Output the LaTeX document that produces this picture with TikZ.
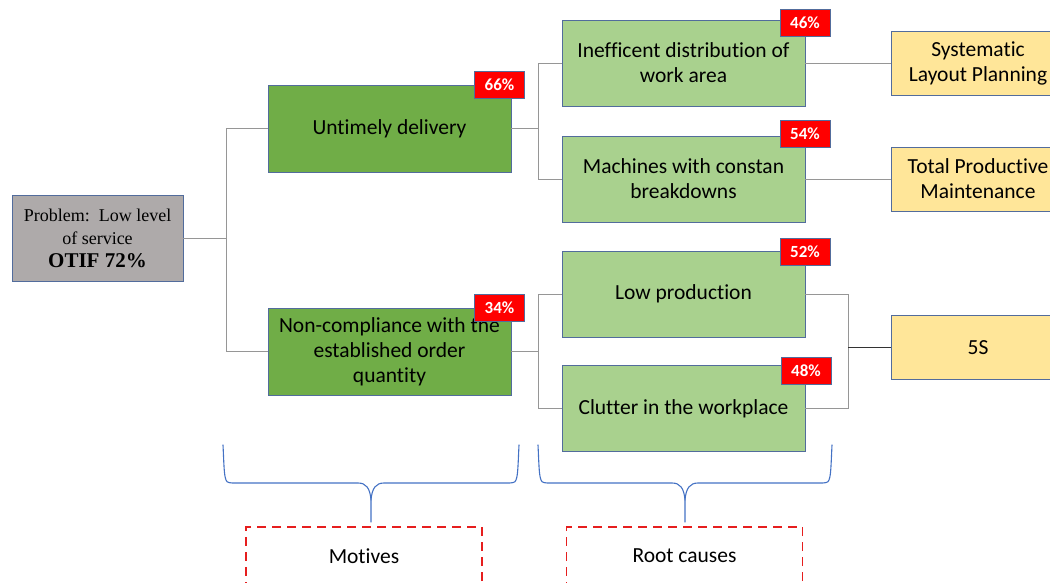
\documentclass[tikz,border=0pt]{standalone}
\usepackage{fontspec}
\setmainfont{Carlito}[Ligatures=NoCommon]
\newfontfamily\timesfont{Liberation Serif}
\definecolor{edge}{RGB}{82,108,156}
\definecolor{grayfill}{RGB}{174,170,170}
\definecolor{darkgreen}{RGB}{112,173,71}
\definecolor{lightgreen}{RGB}{169,209,142}
\definecolor{yellowfill}{RGB}{255,230,153}
\definecolor{linkgray}{RGB}{150,150,150}
\definecolor{bracecol}{RGB}{68,114,196}
\definecolor{dashred}{RGB}{230,30,30}
\begin{document}
\begin{tikzpicture}[x=1pt,y=-1pt,
  box/.style={draw=edge, line width=0.8pt, inner sep=0pt, align=center,
    font=\fontsize{21.5}{25}\selectfont},
  problembox/.style={box, fill=grayfill, minimum width=171pt, minimum height=86pt,
    font=\timesfont\fontsize{18}{23}\selectfont},
  motive/.style={box, fill=darkgreen, minimum width=243pt, minimum height=87pt},
  cause/.style={box, fill=lightgreen, minimum width=243pt, minimum height=86pt},
  tool/.style={box, fill=yellowfill, minimum width=174pt, minimum height=64pt},
  badge/.style={draw=edge, line width=0.8pt, fill=red, text=white, inner sep=0pt,
    minimum width=50pt, minimum height=27pt, font=\bfseries\fontsize{17}{19}\selectfont},
  link/.style={draw=linkgray, line width=0.9pt},
  darklink/.style={draw=black!80, line width=0.9pt},
  bracepath/.style={draw=bracecol, line width=1.1pt, line cap=round, line join=round},
  label/.style={draw=dashred, line width=1.3pt, dash pattern=on 9pt off 6pt,
    minimum width=236pt, minimum height=58pt, inner sep=0pt,
    font=\fontsize{21.5}{25}\selectfont}
]
\useasboundingbox (0,0) rectangle (1050,582);
\clip (0,0) rectangle (1050,582);

% problem
\node[problembox] (prob) at (97.5,238) {Problem:\ \ Low level\\of service\\{\bfseries\fontsize{21}{25}\selectfont OTIF 72\%}};

% motives
\node[motive] (ud) at (389.5,128.5) {Untimely delivery};
\node[motive] (nc) at (389.5,351.5) {Non-compliance with the\\established order\\quantity};

% root causes
\node[cause] (ie) at (683.5,63) {Inefficent distribution of\\work area};
\node[cause] (mc) at (683.5,179) {Machines with constan\\breakdowns};
\node[cause] (lp) at (683.5,294) {Low production};
\node[cause] (cl) at (683.5,408.5) {Clutter in the workplace};

% tools
\node[tool] (slp) at (978,63) {Systematic\\Layout Planning};
\node[tool] (tpm) at (978,179) {Total Productive\\Maintenance};
\node[tool] (fs) at (978,347.5) {5S};

% percentages
\node[badge] (b66) at (499.5,85) {66\%};
\node[badge] (b34) at (499.5,307.5) {34\%};
\node[badge] (b46) at (805,22.5) {46\%};
\node[badge] (b54) at (805,133.5) {54\%};
\node[badge] (b52) at (805,251.5) {52\%};
\node[badge] (b48) at (806,370.5) {48\%};

% junctions
\coordinate (j1) at (226,238);
\coordinate (j2) at (538,128.5);
\coordinate (j3) at (538,351.5);
\coordinate (j4) at (848,347.5);

\draw[link] (prob.east) -- (j1);
\draw[link] (j1) |- (ud.west);
\draw[link] (j1) |- (nc.west);
\draw[link] (ud.east) -- (j2);
\draw[link] (j2) |- (ie.west);
\draw[link] (j2) |- (mc.west);
\draw[link] (nc.east) -- (j3);
\draw[link] (j3) |- (lp.west);
\draw[link] (j3) |- (cl.west);
\draw[link] (ie.east) -- (slp.west);
\draw[link] (mc.east) -- (tpm.west);
\draw[link] (lp.east) -| (j4);
\draw[link] (cl.east) -| (j4);
\draw[darklink] (j4) -- (fs.west);

% braces
\draw[bracepath] (223,445) .. controls (224,465) and (224,475) .. (226,480)
  .. controls (227,483) and (230,483) .. (236,483) -- (358,483)
  .. controls (366,483) and (370,488) .. (371,500) -- (371,522);
\draw[bracepath] (519,445) .. controls (518,465) and (518,475) .. (516,480)
  .. controls (515,483) and (512,483) .. (506,483) -- (384,483)
  .. controls (376,483) and (372,488) .. (371,500);
\draw[bracepath] (538,445) .. controls (539,465) and (539,475) .. (541,480)
  .. controls (542,483) and (545,483) .. (551,483) -- (672,483)
  .. controls (680,483) and (684,488) .. (685,500) -- (685,522);
\draw[bracepath] (832,445) .. controls (831,465) and (831,475) .. (829,480)
  .. controls (828,483) and (825,483) .. (819,483) -- (698,483)
  .. controls (690,483) and (686,488) .. (685,500);

% group labels
\node[label] (mot) at (364,556) {Motives};
\node[label] (rc) at (684.5,556) {Root causes};
\end{tikzpicture}
\end{document}
